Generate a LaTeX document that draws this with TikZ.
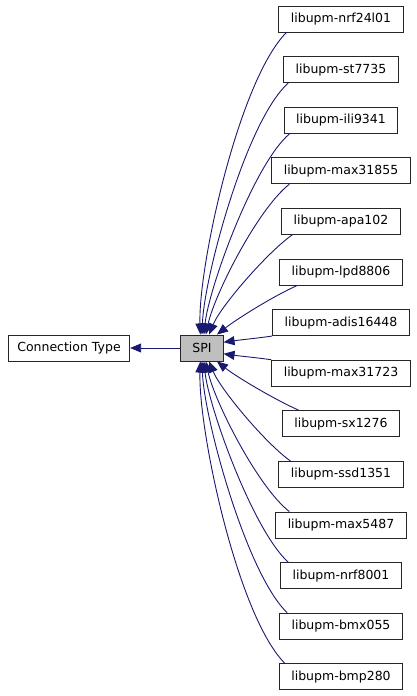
\documentclass[tikz,border=0pt]{standalone}
\usepackage{fontspec}
\setmainfont{DejaVu Sans}
\usepackage{tikz}
\usetikzlibrary{arrows.meta}
\definecolor{edgeblue}{HTML}{191970}
\definecolor{curgray}{HTML}{BFBFBF}
\tikzset{
  classbox/.style = {draw=black!85,fill=white,line width=0.9pt,minimum height=26pt,
                     inner xsep=12pt,inner ysep=0pt,font=\fontsize{12.5}{14}\selectfont},
  curbox/.style   = {classbox,fill=curgray,inner xsep=11.5pt},
  inharr/.style   = {-{Triangle[length=11pt,width=9pt]},edgeblue,line width=0.9pt}
}

\begin{document}
\begin{tikzpicture}[x=1pt,y=1pt]
  \useasboundingbox (0,0) rectangle (416,-696);
  % base class and the current class
  \node[classbox,inner xsep=9pt] (conntype) at (69,-348) {Connection Type};
  \node[curbox]   (spi)      at (202,-348) {SPI};
  \draw[inharr] (spi) -- (conntype);
  % derived libraries, one rank on the right
  \node[classbox] (nrf24l01)  at (341,-19)    {libupm-nrf24l01};
  \node[classbox] (st7735)    at (341,-69.6)  {libupm-st7735};
  \node[classbox] (ili9341)   at (341,-120.2) {libupm-ili9341};
  \node[classbox] (max31855)  at (341,-170.8) {libupm-max31855};
  \node[classbox] (apa102)    at (341,-221.4) {libupm-apa102};
  \node[classbox] (lpd8806)   at (341,-272)   {libupm-lpd8806};
  \node[classbox] (adis16448) at (341,-322.6) {libupm-adis16448};
  \node[classbox] (max31723)  at (341,-373.2) {libupm-max31723};
  \node[classbox] (sx1276)    at (341,-423.8) {libupm-sx1276};
  \node[classbox] (ssd1351)   at (341,-474.4) {libupm-ssd1351};
  \node[classbox] (max5487)   at (341,-525)   {libupm-max5487};
  \node[classbox] (nrf8001)   at (341,-575.6) {libupm-nrf8001};
  \node[classbox] (bmx055)    at (341,-626.2) {libupm-bmx055};
  \node[classbox] (bmp280)    at (341,-676.8) {libupm-bmp280};
  % upper half comes down onto the top of SPI
  \draw[inharr] ([xshift=8pt]nrf24l01.south west)  to[out=225,in=92,looseness=0.55] (spi.97);
  \draw[inharr] ([xshift=5pt]st7735.south west)    to[out=222,in=88,looseness=0.55] (spi.90);
  \draw[inharr] ([xshift=6pt]ili9341.south west)   to[out=220,in=84,looseness=0.55] (spi.82);
  \draw[inharr] ([xshift=18pt]max31855.south west) to[out=218,in=78,looseness=0.6] (spi.74);
  \draw[inharr] ([xshift=11pt]apa102.south west)   to[out=215,in=68,looseness=0.6] (spi.62);
  \draw[inharr] ([xshift=18pt]lpd8806.south west)  to[out=204,in=38,looseness=0.7] (spi.42);
  \draw[inharr] (adis16448.south west) to[out=188,in=8] (spi.15);
  % lower half mirrors it
  \draw[inharr] (max31723.north west)  to[out=172,in=-8] (spi.-15);
  \draw[inharr] ([xshift=17pt]sx1276.north west)   to[out=156,in=-38,looseness=0.7] (spi.-42);
  \draw[inharr] ([xshift=12pt]ssd1351.north west)  to[out=145,in=-68,looseness=0.6] (spi.-62);
  \draw[inharr] ([xshift=14pt]max5487.north west)  to[out=142,in=-78,looseness=0.6] (spi.-74);
  \draw[inharr] ([xshift=8pt]nrf8001.north west)   to[out=138,in=-84,looseness=0.55] (spi.-82);
  \draw[inharr] ([xshift=8pt]bmx055.north west)    to[out=136,in=-88,looseness=0.55] (spi.-90);
  \draw[inharr] ([xshift=6pt]bmp280.north west)    to[out=135,in=-92,looseness=0.55] (spi.-97);
\end{tikzpicture}
\end{document}
